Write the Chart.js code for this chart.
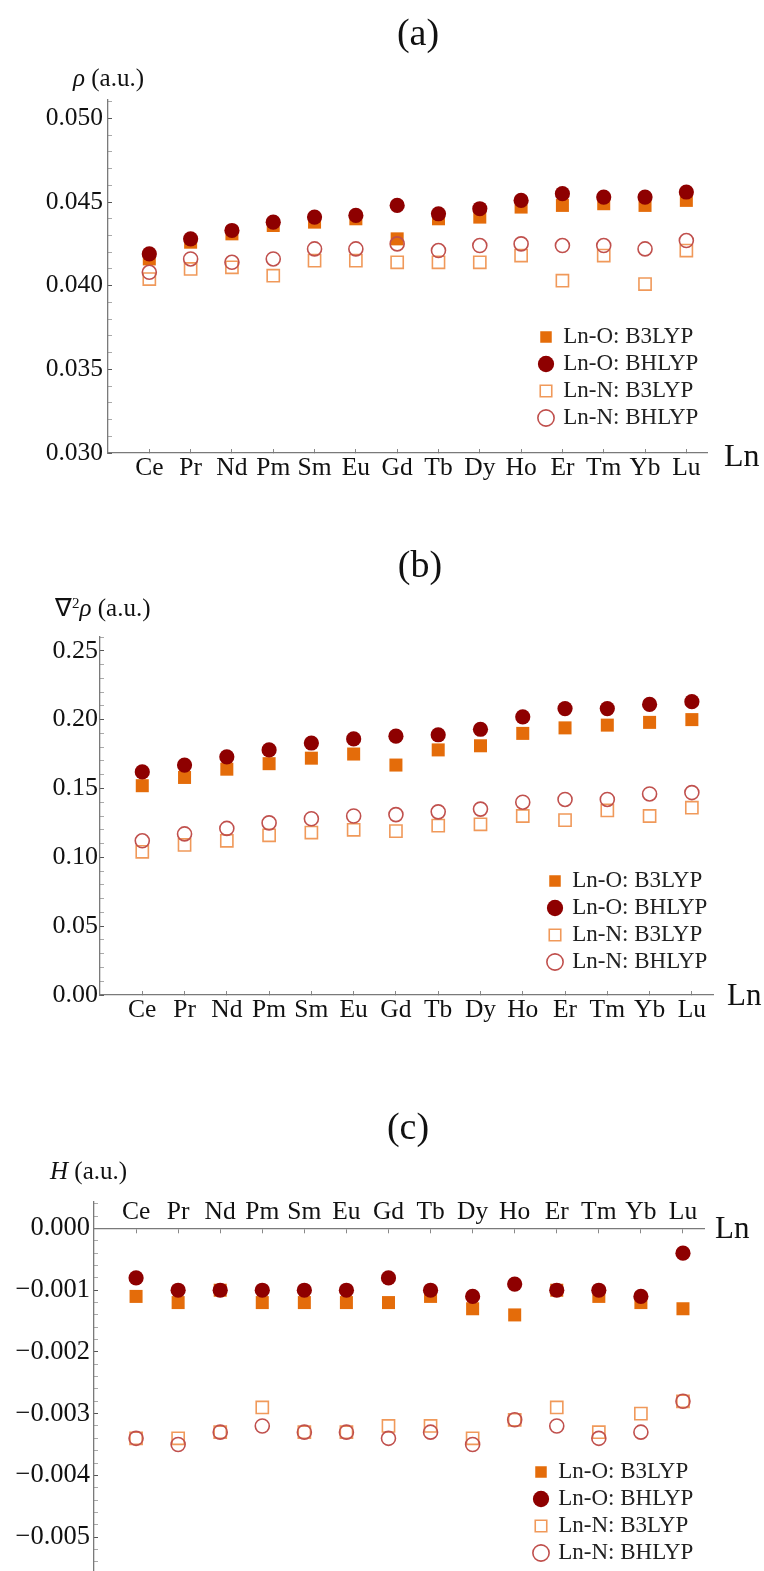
<!DOCTYPE html>
<html>
<head>
<meta charset="utf-8">
<script src="https://cdn.jsdelivr.net/npm/chart.js@4.4.1/dist/chart.umd.min.js"></script>
<style>
html,body{margin:0;padding:0;background:#fff;}
#wrap{position:relative;width:764px;height:1571px;overflow:hidden;font-family:'Liberation Serif','Times New Roman',serif;color:#111;}
canvas{position:absolute;left:0;}
.t{position:absolute;line-height:1;white-space:nowrap;z-index:2;}
.sup{font-size:0.6em;position:relative;top:-0.55em;line-height:0;}
</style>
</head>
<body>
<div id="wrap">
  <canvas id="ca" width="764" height="500" style="top:0px;width:764px;height:500px"></canvas>
  <canvas id="cb" width="764" height="530" style="top:500px;width:764px;height:530px"></canvas>
  <canvas id="cc" width="764" height="541" style="top:1030px;width:764px;height:541px"></canvas>
</div>
<script>
// ---------------- data ----------------
const categories = ['Ce','Pr','Nd','Pm','Sm','Eu','Gd','Tb','Dy','Ho','Er','Tm','Yb','Lu'];
const seriesNames = ['Ln-O: B3LYP','Ln-O: BHLYP','Ln-N: B3LYP','Ln-N: BHLYP'];

// (a) rho (a.u.)
const rhoLnO_B3LYP = [0.0416,0.0426,0.0431,0.0436,0.0438,0.0440,0.0428,0.0440,0.0441,0.0447,0.0448,0.0449,0.0448,0.0451];
const rhoLnO_BHLYP = [0.0419,0.0428,0.0433,0.0438,0.0441,0.0442,0.0448,0.0443,0.0446,0.0451,0.0455,0.0453,0.0453,0.0456];
const rhoLnN_B3LYP = [0.0404,0.0410,0.0411,0.0406,0.0415,0.0415,0.0414,0.0414,0.0414,0.0418,0.0403,0.0418,0.0401,0.0421];
const rhoLnN_BHLYP = [0.0408,0.0416,0.0414,0.0416,0.0422,0.0422,0.0425,0.0421,0.0424,0.0425,0.0424,0.0424,0.0422,0.0427];
const rhoTicks = [0.030,0.035,0.040,0.045,0.050];

// (b) laplacian of rho (a.u.)
const lapLnO_B3LYP = [0.152,0.158,0.164,0.168,0.172,0.175,0.167,0.178,0.181,0.190,0.194,0.196,0.198,0.200];
const lapLnO_BHLYP = [0.162,0.167,0.173,0.178,0.183,0.186,0.188,0.189,0.193,0.202,0.208,0.208,0.211,0.213];
const lapLnN_B3LYP = [0.104,0.109,0.112,0.116,0.118,0.120,0.119,0.123,0.124,0.130,0.127,0.134,0.130,0.136];
const lapLnN_BHLYP = [0.112,0.117,0.121,0.125,0.128,0.130,0.131,0.133,0.135,0.140,0.142,0.142,0.146,0.147];
const lapTicks = [0.00,0.05,0.10,0.15,0.20,0.25];

// (c) H (a.u.)
const hLnO_B3LYP = [-0.0011,-0.0012,-0.0010,-0.0012,-0.0012,-0.0012,-0.0012,-0.0011,-0.0013,-0.0014,-0.0010,-0.0011,-0.0012,-0.0013];
const hLnO_BHLYP = [-0.0008,-0.0010,-0.0010,-0.0010,-0.0010,-0.0010,-0.0008,-0.0010,-0.0011,-0.0009,-0.0010,-0.0010,-0.0011,-0.0004];
const hLnN_B3LYP = [-0.0034,-0.0034,-0.0033,-0.0029,-0.0033,-0.0033,-0.0032,-0.0032,-0.0034,-0.0031,-0.0029,-0.0033,-0.0030,-0.0028];
const hLnN_BHLYP = [-0.0034,-0.0035,-0.0033,-0.0032,-0.0033,-0.0033,-0.0034,-0.0033,-0.0035,-0.0031,-0.0032,-0.0034,-0.0033,-0.0028];
const hTicks = [-0.005,-0.004,-0.003,-0.002,-0.001,0.000];

// ---------------- styling ----------------
const FONT = "'Liberation Serif','Times New Roman',serif";
const COLORS = ['#E46C0A','#8E0000','#F0995A','#C0504D'];
const STYLES = [
  {pointStyle:'rect',   r:9.2, bg:COLORS[0], bc:COLORS[0], bw:0},
  {pointStyle:'circle', r:7.6, bg:COLORS[1], bc:COLORS[1], bw:0},
  {pointStyle:'rect',   r:8.6, bg:'rgba(0,0,0,0)', bc:COLORS[2], bw:1.6},
  {pointStyle:'circle', r:7,   bg:'rgba(0,0,0,0)', bc:COLORS[3], bw:1.6}
];
const AXIS_COLOR = '#7a7a7a';
Chart.defaults.font.family = FONT;
Chart.defaults.color = '#111';

function minorTicks(majors, min, max) {
  const step = (majors[1] - majors[0]) / 5;
  const out = [];
  const k0 = Math.ceil((min - majors[0]) / step - 1e-9);
  const k1 = Math.floor((max - majors[0]) / step + 1e-9);
  for (let k = k0; k <= k1; k++) out.push({value: +(majors[0] + k * step).toFixed(9)});
  return out;
}
function isMajor(v, majors) { return majors.some(m => Math.abs(m - v) < 1e-9); }
function zeroPad(s) { s.paddingTop = 0; s.paddingBottom = 0; s.paddingLeft = 0; s.paddingRight = 0; }

function legendPlacer(cx, cy, boxW, pad, fs) {
  return {
    id: 'legendPlacer',
    afterLayout(chart) {
      const lg = chart.legend;
      if (!lg) return;
      lg.left = cx - boxW / 2 - pad;
      lg.top = cy - fs / 2 - pad;
      lg.width = 300; lg.height = 200;
      lg.right = lg.left + 300; lg.bottom = lg.top + 200;
    }
  };
}

function makePanel(id, p) {
  const datasets = p.series.map((arr, i) => {
    const st = STYLES[i];
    return {
      label: seriesNames[i],
      data: arr.map((y, j) => ({x: j + 1, y: y})),
      showLine: false,
      pointStyle: st.pointStyle,
      pointRadius: st.r,
      pointHoverRadius: st.r,
      pointBackgroundColor: st.bg,
      backgroundColor: st.bg,
      pointBorderColor: st.bc,
      borderColor: st.bc,
      pointBorderWidth: st.bw,
      borderWidth: st.bw,
      order: 4 - i
    };
  });
  const LBOX = 11.5, LPAD = 4, LFS = 23;
  return new Chart(document.getElementById(id), {
    type: 'scatter',
    data: {datasets},
    options: {
      responsive: false,
      animation: false,
      events: [],
      layout: {autoPadding: false, padding: p.padding},
      plugins: {
        tooltip: {enabled: false},
        title: {display: false},
        legend: {
          display: true,
          position: 'chartArea',
          align: 'start',
          labels: {
            usePointStyle: true,
            boxWidth: LBOX,
            boxHeight: LBOX,
            padding: LPAD,
            color: '#222',
            font: {family: FONT, size: LFS},
            sort: (a, b) => a.datasetIndex - b.datasetIndex
          }
        }
      },
      scales: {
        x: {
          type: 'linear',
          position: p.xPosition,
          min: 0,
          max: 14.5,
          afterBuildTicks: s => { s.ticks = categories.map((c, i) => ({value: i + 1})); },
          afterFit: s => { s.height = p.xHeight; zeroPad(s); },
          border: {display: true, color: AXIS_COLOR, width: 1.3},
          grid: {drawOnChartArea: false, drawTicks: true, tickLength: p.xTickLen, tickColor: '#888', tickWidth: 1},
          ticks: {
            autoSkip: false, maxRotation: 0, minRotation: 0,
            padding: p.xPad,
            color: '#111',
            font: {family: FONT, size: 25.5, lineHeight: 1.2},
            callback: v => categories[Math.round(v) - 1] || ''
          }
        },
        y: {
          type: 'linear',
          position: 'left',
          min: p.yMin,
          max: p.yMax,
          afterBuildTicks: s => { s.ticks = minorTicks(p.majors, p.yMin, p.yMax); },
          afterFit: s => { s.width = p.yWidth; zeroPad(s); },
          border: {display: true, color: AXIS_COLOR, width: 1.3},
          grid: {
            drawOnChartArea: false, drawTicks: true, tickLength: -4, tickWidth: 1,
            tickColor: ctx => (ctx.tick && isMajor(ctx.tick.value, p.majors)) ? '#555' : '#aaa'
          },
          ticks: {
            autoSkip: false,
            padding: p.yPad,
            color: '#111',
            font: {family: FONT, size: p.yFont, lineHeight: 1.2},
            callback: v => isMajor(v, p.majors) ? p.fmt(v) : ''
          }
        }
      }
    },
    plugins: [legendPlacer(p.legend[0], p.legend[1], LBOX, LPAD, LFS)]
  });
}

// (a)
makePanel('ca', {
  series: [rhoLnO_B3LYP, rhoLnO_BHLYP, rhoLnN_B3LYP, rhoLnN_BHLYP],
  majors: rhoTicks, yMin: 0.030, yMax: 0.0511,
  fmt: v => v.toFixed(3),
  padding: {left: 0, right: 57, top: 100, bottom: 7},
  yWidth: 108, xHeight: 40, yPad: 9, xPad: 4, xTickLen: -4, yFont: 25.5,
  xPosition: 'bottom',
  legend: [546, 337]
});
// (b)
makePanel('cb', {
  series: [lapLnO_B3LYP, lapLnO_BHLYP, lapLnN_B3LYP, lapLnN_BHLYP],
  majors: lapTicks, yMin: 0, yMax: 0.26,
  fmt: v => v.toFixed(2),
  padding: {left: 0, right: 51, top: 137, bottom: 5},
  yWidth: 100, xHeight: 30, yPad: 6, xPad: 4, xTickLen: -4, yFont: 26,
  xPosition: 'bottom',
  legend: [555, 381]
});
// (c)
makePanel('cc', {
  series: [hLnO_B3LYP, hLnO_BHLYP, hLnN_B3LYP, hLnN_BHLYP],
  majors: hTicks, yMin: -0.00555, yMax: 0.00043,
  fmt: v => (Math.abs(v) < 1e-12 ? '0.000' : '\u2212' + Math.abs(v).toFixed(3)),
  padding: {left: 0, right: 60, top: 172, bottom: 0},
  yWidth: 94, xHeight: 0, yPad: 8, xPad: -36, xTickLen: 4, yFont: 26.5,
  xPosition: {y: 0},
  legend: [541, 442]
});

// ---------------- text labels ----------------
const wrap = document.getElementById('wrap');
function addText(html, x, baseline, size, align) {
  const d = document.createElement('div');
  d.className = 't';
  d.innerHTML = html;
  d.style.fontSize = size + 'px';
  d.style.top = (baseline - 0.8375 * size) + 'px';
  d.style.left = x + 'px';
  if (align === 'center') d.style.transform = 'translateX(-50%)';
  wrap.appendChild(d);
}
addText('(a)', 418, 45, 38, 'center');
addText('<i>\u03C1</i> (a.u.)', 73, 86, 25, 'left');
addText('Ln', 724, 466, 32, 'left');
addText('(b)', 420, 577, 38, 'center');
addText('\u2207<span class="sup">2</span><i>\u03C1</i> (a.u.)', 55, 616, 25, 'left');
addText('Ln', 727, 1005, 31, 'left');
addText('(c)', 408, 1139, 38, 'center');
addText('<i>H</i> (a.u.)', 50, 1179, 25, 'left');
addText('Ln', 715, 1238, 31, 'left');
</script>
</body>
</html>
